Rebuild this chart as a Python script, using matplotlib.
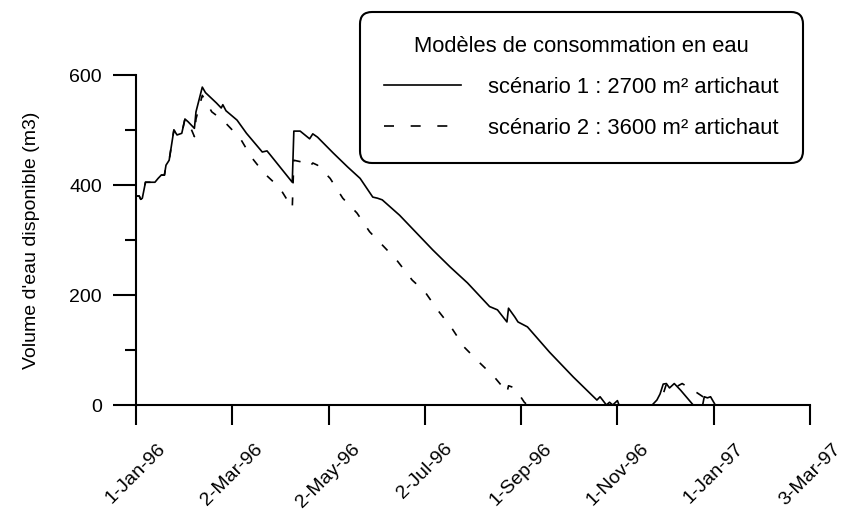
import matplotlib
matplotlib.use('Agg')
import matplotlib.pyplot as plt
from matplotlib.lines import Line2D
import numpy as np

plt.rcParams['font.family'] = ['Liberation Sans', 'DejaVu Sans']

# scénario 1 : 2700 m² artichaut
sc1_dates = ['1996-01-01', '1996-01-03', '1996-01-04', '1996-01-05', '1996-01-07', '1996-01-13',
             '1996-01-15', '1996-01-17', '1996-01-19', '1996-01-20', '1996-01-22', '1996-01-25',
             '1996-01-27', '1996-01-30', '1996-02-01', '1996-02-03', '1996-02-07', '1996-02-08',
             '1996-02-12', '1996-02-14', '1996-02-21', '1996-02-24', '1996-02-25', '1996-02-27',
             '1996-03-05', '1996-03-11', '1996-03-21', '1996-03-24', '1996-03-26', '1996-04-09',
             '1996-04-10', '1996-04-14', '1996-04-20', '1996-04-22', '1996-04-25', '1996-05-05',
             '1996-05-14', '1996-05-22', '1996-05-30', '1996-06-02', '1996-06-05', '1996-06-16',
             '1996-07-07', '1996-07-18', '1996-07-29', '1996-08-12', '1996-08-17', '1996-08-23',
             '1996-08-24', '1996-08-28', '1996-08-30', '1996-09-05', '1996-09-19', '1996-10-04',
             '1996-10-19', '1996-10-21', '1996-10-25', '1996-10-27', '1996-10-29', '1996-11-01',
             '1996-11-02', '1996-11-23', '1996-11-26', '1996-11-28', '1996-11-30', '1996-12-02',
             '1996-12-04', '1996-12-07', '1996-12-11', '1996-12-19', '1996-12-25', '1996-12-26',
             '1996-12-28', '1996-12-30', '1997-01-02']
sc1_vals = [380, 380, 374, 376, 405, 405,
            412, 418, 418, 436, 445, 500,
            491, 494, 520, 515, 503, 533,
            578, 568, 549, 540, 546, 535,
            518, 494, 460, 462, 455, 405,
            498, 498, 484, 493, 487, 458,
            433, 412, 378, 376, 373, 345,
            282, 251, 222, 179, 173, 151,
            176, 160, 151, 142, 96, 51,
            9, 15, 0, 5, 0, 8,
            0, 0, 9, 20, 38, 39,
            31, 39, 27, 0, 0, 15,
            13, 15, 0]

# scénario 2 : 3600 m² artichaut
sc2_dates = ['1996-01-01', '1996-01-03', '1996-01-04', '1996-01-05', '1996-01-07', '1996-01-13',
             '1996-01-15', '1996-01-17', '1996-01-19', '1996-01-20', '1996-01-22', '1996-01-25',
             '1996-01-27', '1996-01-30', '1996-02-01', '1996-02-03', '1996-02-07', '1996-02-08',
             '1996-02-12', '1996-02-18', '1996-02-24', '1996-02-27', '1996-03-07', '1996-03-14',
             '1996-03-22', '1996-04-01', '1996-04-09', '1996-04-10', '1996-04-18', '1996-04-20',
             '1996-04-22', '1996-04-25', '1996-05-03', '1996-05-11', '1996-05-20', '1996-05-28',
             '1996-06-05', '1996-06-14', '1996-06-24', '1996-07-02', '1996-07-10', '1996-07-19',
             '1996-07-27', '1996-08-06', '1996-08-15', '1996-08-22', '1996-08-23', '1996-08-24',
             '1996-08-28', '1996-09-03', '1996-09-05', '1996-11-26', '1996-11-28', '1996-11-30',
             '1996-12-02', '1996-12-04', '1996-12-07', '1996-12-12', '1996-12-20', '1997-01-02']
sc2_vals = [380, 380, 374, 376, 405, 405,
            412, 418, 418, 436, 445, 500,
            491, 494, 520, 515, 488, 520,
            563, 533, 520, 512, 485, 451,
            422, 395, 358, 445, 440, 433,
            440, 436, 412, 376, 349, 315,
            291, 264, 227, 206, 173, 140,
            105, 76, 51, 27, 22, 35,
            31, 5, 0, 0, 9, 20,
            38, 39, 31, 39, 25, 0]

tick_dates = ['1996-01-01', '1996-03-02', '1996-05-02', '1996-07-02',
              '1996-09-01', '1996-11-01', '1997-01-01', '1997-03-03']
tick_labels = ['1-Jan-96', '2-Mar-96', '2-May-96', '2-Jul-96',
               '1-Sep-96', '1-Nov-96', '1-Jan-97', '3-Mar-97']

x1 = np.array(sc1_dates, dtype='datetime64[D]')
x2 = np.array(sc2_dates, dtype='datetime64[D]')
xt = np.array(tick_dates, dtype='datetime64[D]')

fig = plt.figure(figsize=(8.43, 5.12), dpi=100)
ax = fig.add_axes([136 / 843, 1 - 405 / 512, 674 / 843, 330 / 512])

ax.plot(x2, sc2_vals, color='black', lw=1.2, dashes=(4.8, 8.4))
ax.plot(x1, sc1_vals, color='black', lw=1.2)

ax.set_xlim(xt[0], xt[-1])
ax.set_ylim(0, 600)
ax.set_xticks(xt)
ax.set_xticklabels(tick_labels)
ax.set_yticks([0, 200, 400, 600])
ax.set_yticks([100, 300, 500], minor=True)

for s in ['top', 'right']:
    ax.spines[s].set_visible(False)
for s in ['left', 'bottom']:
    ax.spines[s].set_linewidth(1.5)

ax.tick_params(axis='y', which='major', direction='out', length=16.5, width=1.5,
               labelsize=14, pad=8)
ax.tick_params(axis='y', which='minor', direction='out', length=8, width=1.5)
ax.tick_params(axis='x', which='major', direction='out', length=14.4, width=1.5,
               labelsize=14, pad=11, labelrotation=45)

ax.set_ylabel("Volume d'eau disponible (m3)", fontsize=14, labelpad=21)

handles = [Line2D([], [], color='black', lw=1.2),
           Line2D([], [], color='black', lw=1.2, dashes=(6, 10))]
labels = ['scénario 1 : 2700 m² artichaut', 'scénario 2 : 3600 m² artichaut']
leg = fig.legend(handles, labels, title='Modèles de consommation en eau',
                 loc='upper left', bbox_to_anchor=(360 / 843, 1 - 12 / 512),
                 borderaxespad=0, fontsize=15.8, title_fontsize=15.8,
                 frameon=True, fancybox=True, framealpha=1, edgecolor='black',
                 borderpad=1.1, labelspacing=0.9, handlelength=3.5,
                 handletextpad=1.25)
leg.get_frame().set_linewidth(1.5)
leg.get_frame().set_boxstyle('round', pad=0, rounding_size=0.55)

fig.savefig('out.png', dpi=100)
